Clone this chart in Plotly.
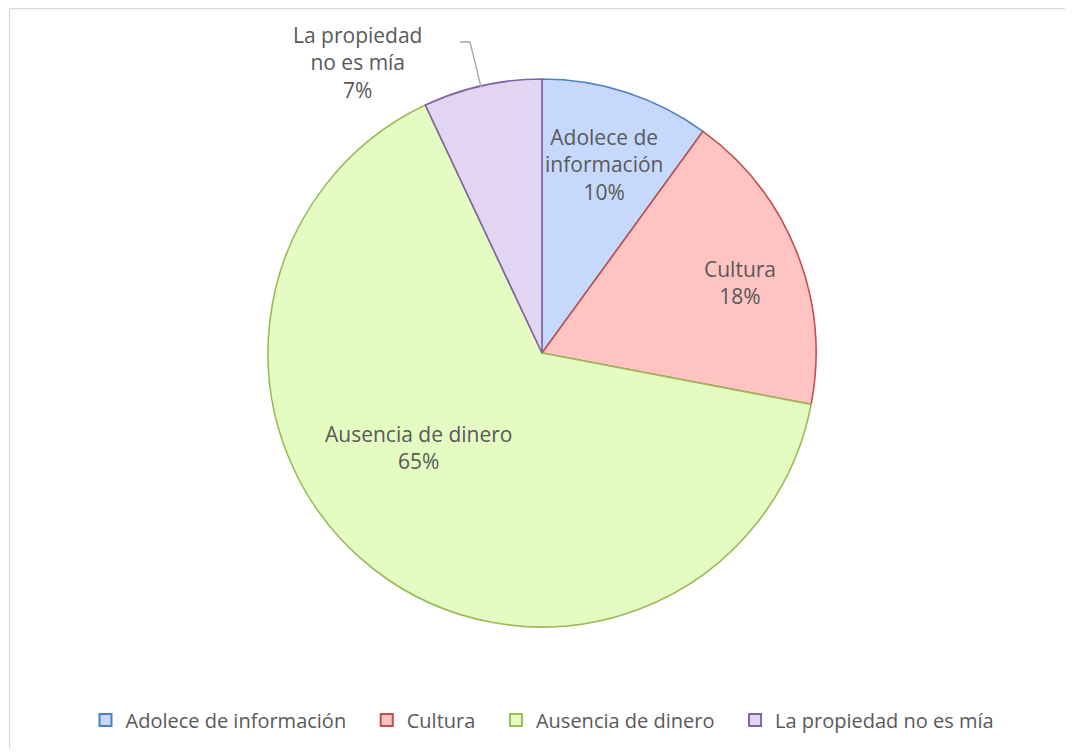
import plotly.graph_objects as go

# page body has an 8px margin; figure coordinates are reference pixels minus 8
OFF = 8
W, H = 1057, 740

categories = ["Adolece de información", "Cultura", "Ausencia de dinero", "La propiedad no es mía"]
values = [10, 18, 65, 7]
label_text = ["Adolece de<br>información<br>10%", "Cultura<br>18%", "Ausencia de dinero<br>65%",
              "La propiedad<br>no es mía<br>7%"]
fill_colors = ["#c6d9fc", "#ffc3c1", "#e4fbc2", "#e1d5f1"]
line_colors = ["#4f81bd", "#c0504d", "#9bbb59", "#8064a2"]

# pie geometry in reference pixels
cx, cy, R = 542, 353, 274


def px(x):
    return (x - OFF) / W


def py(y):
    return 1 - (y - OFF) / H


pad = "\u00a0" * 3
fig = go.Figure()
fig.add_trace(go.Pie(
    labels=[c + pad for c in categories],
    values=values,
    sort=False,
    direction="clockwise",
    rotation=0,
    textinfo="none",
    hovertext=categories,
    hoverinfo="text+percent",
    marker=dict(colors=fill_colors, line=dict(color=line_colors, width=1.6)),
    domain=dict(x=[px(cx - R), px(cx + R)], y=[py(cy + R), py(cy - R)]),
    showlegend=True,
))

label_pos = [(604, 164), (740, 282), (418, 447), (357, 62)]
annotations = []
for t, (x, y) in zip(label_text, label_pos):
    annotations.append(dict(
        x=px(x), y=py(y), xref="paper", yref="paper", text=t, showarrow=False,
        font=dict(family="Open Sans", size=21, color="#595959"),
        xanchor="center", yanchor="middle", align="center",
    ))

shapes = [
    # outer chart border
    dict(type="rect", xref="paper", yref="paper", x0=px(9.5), y0=-0.1, x1=1.1, y1=py(8.7),
         line=dict(color="#d9d9d9", width=1.2), fillcolor="rgba(0,0,0,0)", layer="below"),
    # leader line for small slice
    dict(type="path", xref="paper", yref="paper",
         path=f"M {px(460)} {py(42)} L {px(470)} {py(42)} L {px(481)} {py(87)}",
         line=dict(color="#a6a6a6", width=1.3)),
]

fig.update_layout(
    width=W, height=H,
    margin=dict(l=0, r=0, t=0, b=0),
    paper_bgcolor="white",
    plot_bgcolor="white",
    annotations=annotations,
    shapes=shapes,
    legend=dict(
        orientation="h", x=px(550), xanchor="center", y=py(720), yanchor="middle",
        font=dict(family="Open Sans", size=20, color="#595959"),
        itemsizing="constant", traceorder="normal",
        itemwidth=30,
    ),
)

fig.write_html("out.html")
